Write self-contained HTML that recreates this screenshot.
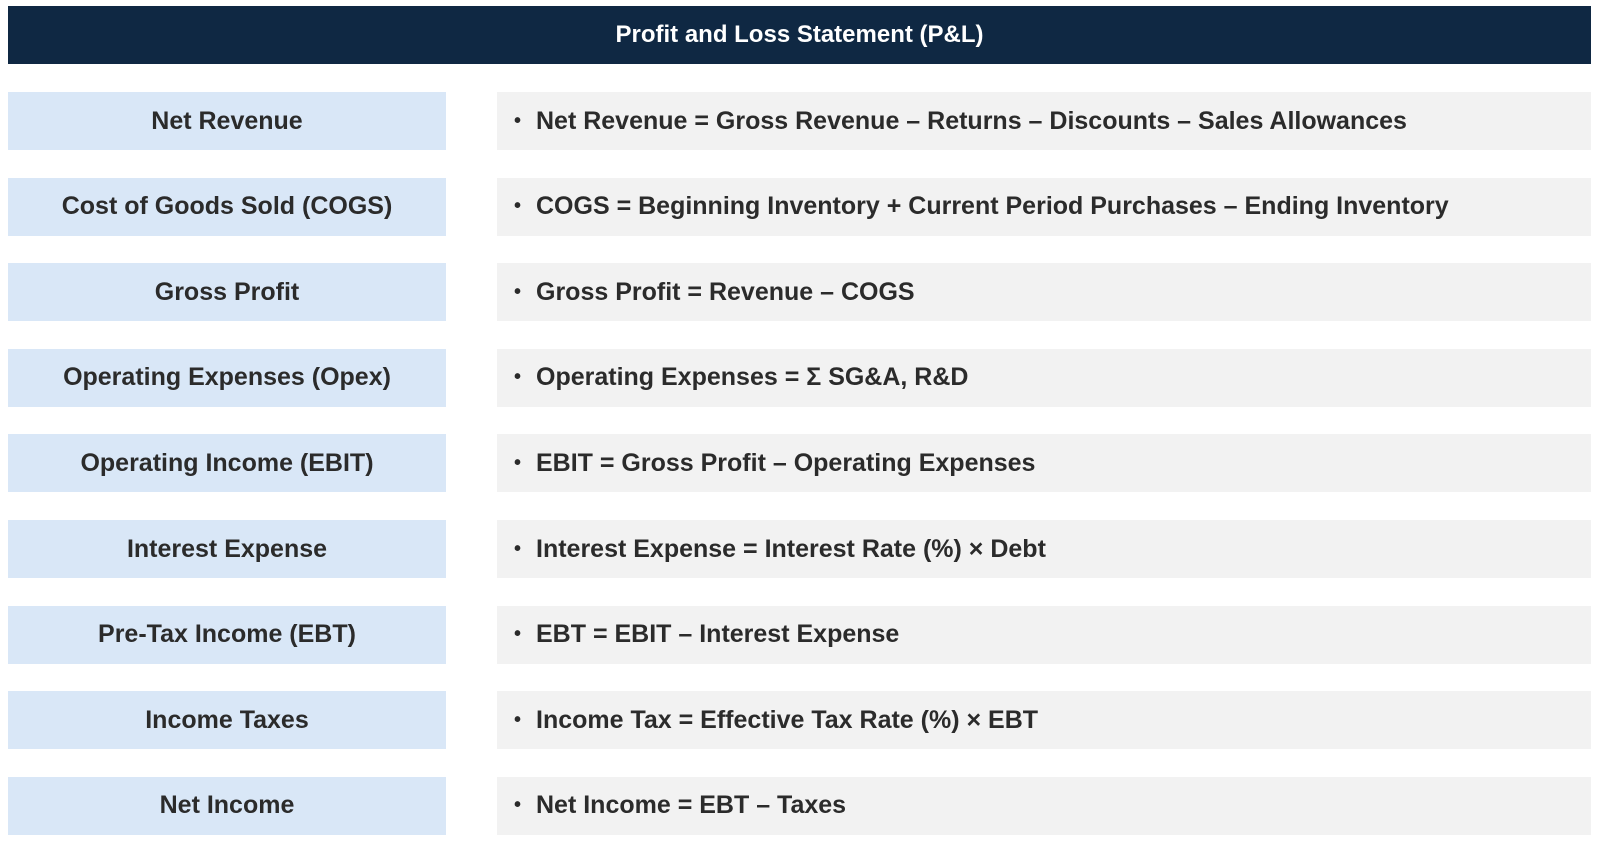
<!DOCTYPE html>
<html><head><meta charset="utf-8"><style>
body{margin:0;width:1600px;height:845px;background:#fff;font-family:"Liberation Sans",sans-serif;position:relative;overflow:hidden}
.hdr{position:absolute;left:8px;top:6px;width:1583px;height:58px;background:#0f2843;color:#fff;font-weight:bold;font-size:24px;display:flex;align-items:center;justify-content:center}
.l,.r{position:absolute;height:58px;display:flex;align-items:center;font-weight:bold;font-size:25px;color:#2b2b2b}
.l{left:8px;width:438px;background:#d9e7f7;justify-content:center}
.r{left:497px;width:1094px;background:#f2f2f2}
.r .b{margin-left:17px;width:22px;font-size:20px}
</style></head><body>
<div class="hdr">Profit and Loss Statement (P&amp;L)</div>
<div id="rows"></div>
<script>
const labels=["Net Revenue","Cost of Goods Sold (COGS)","Gross Profit","Operating Expenses (Opex)","Operating Income (EBIT)","Interest Expense","Pre-Tax Income (EBT)","Income Taxes","Net Income"];
const formulas=["Net Revenue = Gross Revenue – Returns – Discounts – Sales Allowances","COGS = Beginning Inventory + Current Period Purchases – Ending Inventory","Gross Profit = Revenue – COGS","Operating Expenses = Σ SG&A, R&D","EBIT = Gross Profit – Operating Expenses","Interest Expense = Interest Rate (%) × Debt","EBT = EBIT – Interest Expense","Income Tax = Effective Tax Rate (%) × EBT","Net Income = EBT – Taxes"];
const c=document.getElementById('rows');
labels.forEach((t,i)=>{
 const top=92+i*85.6;
 const l=document.createElement('div');l.className='l';l.style.top=top+'px';l.textContent=t;
 
 
 const r=document.createElement('div');r.className='r';r.style.top=top+'px';
 r.innerHTML='<span class="b">•</span><span></span>';r.lastChild.textContent=formulas[i];
 
 
 c.appendChild(l);c.appendChild(r);
});
</script>
</body></html>
